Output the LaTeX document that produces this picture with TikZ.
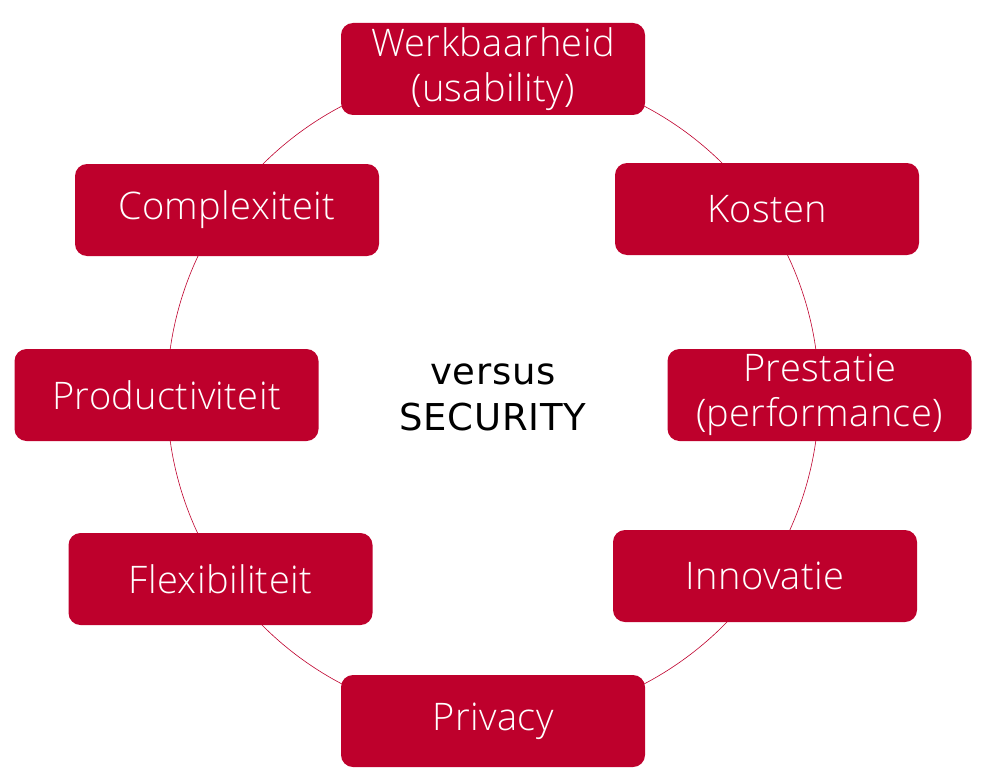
\documentclass[tikz,border=0pt]{standalone}
\usepackage{fontspec}
\setmainfont{Open Sans}[UprightFont=* Light, RawFeature=-liga, LetterSpace=1]
\newfontfamily\regfont{DejaVu Sans}[LetterSpace=2]
\definecolor{boxred}{RGB}{190,0,44}
\begin{document}
\begin{tikzpicture}[x=1pt,y=-1pt,
  itembox/.style={fill=boxred, rounded corners=12pt, minimum width=304pt, minimum height=92pt,
    text=white, align=center, font=\fontsize{38}{45}\selectfont, inner sep=0pt},
  ring/.style={draw=boxred, line width=0.6pt}]
\useasboundingbox (0,0) rectangle (992,781);
\coordinate (c) at (493,395);
\draw[ring] (c) circle[radius=326];
\node[itembox] (werk) at (493,69) {Werkbaarheid\\(usability)};
\node[itembox] (kost) at (767,209) {Kosten};
\node[itembox] (prest) at (819.5,395) {Prestatie\\(performance)};
\node[itembox] (innov) at (765,576) {Innovatie};
\node[itembox] (priv) at (493,721) {Privacy};
\node[itembox] (flex) at (220.5,579) {Flexibiliteit};
\node[itembox] (prod) at (166.5,395) {Productiviteit};
\node[itembox] (compl) at (227,210) {Complexiteit};
\node[align=center, font=\regfont\fontsize{37}{46}\selectfont] (vs) at (493,397) {versus\\SECURITY};
\end{tikzpicture}
\end{document}
